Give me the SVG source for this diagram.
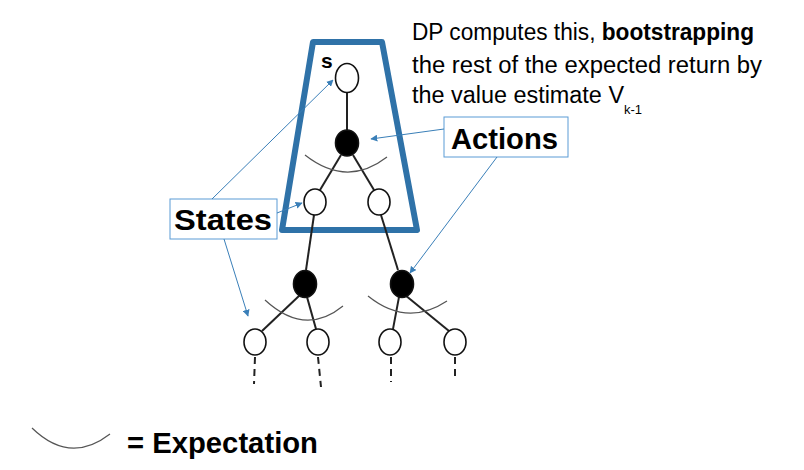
<svg xmlns="http://www.w3.org/2000/svg" width="804" height="470" viewBox="0 0 804 470">
<defs>
<marker id="ah" viewBox="0 0 10 10" refX="9" refY="5" markerWidth="7" markerHeight="7" orient="auto" markerUnits="userSpaceOnUse">
<path d="M0,0 L10,5 L0,10 z" fill="#3a7fb8"/>
</marker>
<style>
.st{fill:#fff;stroke:#111;stroke-width:1.6}
.ac{fill:#000;stroke:#111;stroke-width:1.6}
.edge{stroke:#222;stroke-width:2;fill:none}
.dash{stroke:#222;stroke-width:2;stroke-dasharray:7 5;fill:none}
.exp{stroke:#555;stroke-width:1.2;fill:none}
.conn{stroke:#3a7fb8;stroke-width:1;fill:none;marker-end:url(#ah)}
.lbl{fill:#fff;stroke:#5b9bd5;stroke-width:1}
.big{font-family:"Liberation Sans",Arial,sans-serif;font-weight:bold;font-size:30px;fill:#000}
.txt{font-family:"Liberation Sans",Arial,sans-serif;font-size:23px;fill:#000}
.sub{font-family:"Liberation Sans",Arial,sans-serif;font-size:13px;fill:#000}
</style>
</defs>
<rect width="804" height="470" fill="#fff"/>

<g id="backup">
<polygon points="313,42 382,42 417,230 282,230" fill="none" stroke="#2f72a8" stroke-width="6" stroke-linejoin="round"/>
</g>

<g id="edges">
<line class="edge" x1="347" y1="93" x2="347" y2="130"/>
<line class="edge" x1="341" y1="155" x2="320" y2="190"/>
<line class="edge" x1="353" y1="155" x2="374" y2="190"/>
<line class="edge" x1="314" y1="215" x2="306" y2="270"/>
<line class="edge" x1="381" y1="215" x2="398" y2="270"/>
<line class="edge" x1="300" y1="295" x2="262" y2="331"/>
<line class="edge" x1="307" y1="297" x2="316" y2="329"/>
<line class="edge" x1="399" y1="297" x2="393" y2="329"/>
<line class="edge" x1="405" y1="295" x2="449" y2="331"/>
<line class="dash" x1="255" y1="357" x2="254" y2="384"/>
<line class="dash" x1="318" y1="357" x2="321" y2="387"/>
<line class="dash" x1="391" y1="357" x2="391" y2="382"/>
<line class="dash" x1="455" y1="357" x2="455" y2="378"/>
<path class="exp" d="M305,155 Q347,188 387,157"/>
<path class="exp" d="M265,300 Q305,337 343,306"/>
<path class="exp" d="M368,296 Q407,327.5 447,301"/>
</g>

<g id="node-s">
<ellipse class="st" cx="347" cy="78" rx="11.5" ry="14.5"/>
<text x="321" y="68" font-family="Liberation Sans,Arial,sans-serif" font-size="21" font-weight="bold">s</text>
</g>
<g id="node-a0"><ellipse class="ac" cx="347" cy="143" rx="11.5" ry="13"/></g>
<g id="node-s1"><ellipse class="st" cx="315" cy="202" rx="11" ry="13"/></g>
<g id="node-s2"><ellipse class="st" cx="379" cy="202" rx="11" ry="13"/></g>
<g id="node-a1"><ellipse class="ac" cx="305" cy="284" rx="11.5" ry="13.5"/></g>
<g id="node-a2"><ellipse class="ac" cx="402" cy="284" rx="11.5" ry="13.5"/></g>
<g id="node-l1"><ellipse class="st" cx="255" cy="342" rx="11" ry="13"/></g>
<g id="node-l2"><ellipse class="st" cx="318" cy="342" rx="11" ry="13"/></g>
<g id="node-l3"><ellipse class="st" cx="390" cy="342" rx="11" ry="13"/></g>
<g id="node-l4"><ellipse class="st" cx="455" cy="342" rx="11" ry="13"/></g>

<g id="label-states">
<rect class="lbl" x="170" y="199" width="107" height="40"/>
<text class="big" x="174" y="230" textLength="98" lengthAdjust="spacingAndGlyphs">States</text>
</g>
<g id="label-actions">
<rect class="lbl" x="444" y="117" width="124" height="40"/>
<text class="big" x="451" y="149" textLength="107" lengthAdjust="spacingAndGlyphs">Actions</text>
</g>

<g id="note">
<text class="txt" x="412" y="40" textLength="342" lengthAdjust="spacingAndGlyphs">DP computes this, <tspan font-weight="bold">bootstrapping</tspan></text>
<text class="txt" x="412" y="73" textLength="350" lengthAdjust="spacingAndGlyphs">the rest of the expected return by</text>
<text class="txt" x="412" y="103" textLength="212" lengthAdjust="spacingAndGlyphs">the value estimate V</text>
<text class="sub" x="624" y="114">k-1</text>
</g>

<g id="connectors">
<line class="conn" x1="212" y1="199" x2="333" y2="80"/>
<line class="conn" x1="277" y1="213" x2="302" y2="203"/>
<line class="conn" x1="224" y1="239" x2="248" y2="316"/>
<line class="conn" x1="444" y1="129" x2="371" y2="139"/>
<line class="conn" x1="497" y1="157" x2="410" y2="273"/>
</g>

<g id="legend">
<path class="exp" d="M32,428 Q70,465 110,434"/>
<text class="big" x="127" y="453" textLength="191" lengthAdjust="spacingAndGlyphs">= Expectation</text>
</g>
</svg>
